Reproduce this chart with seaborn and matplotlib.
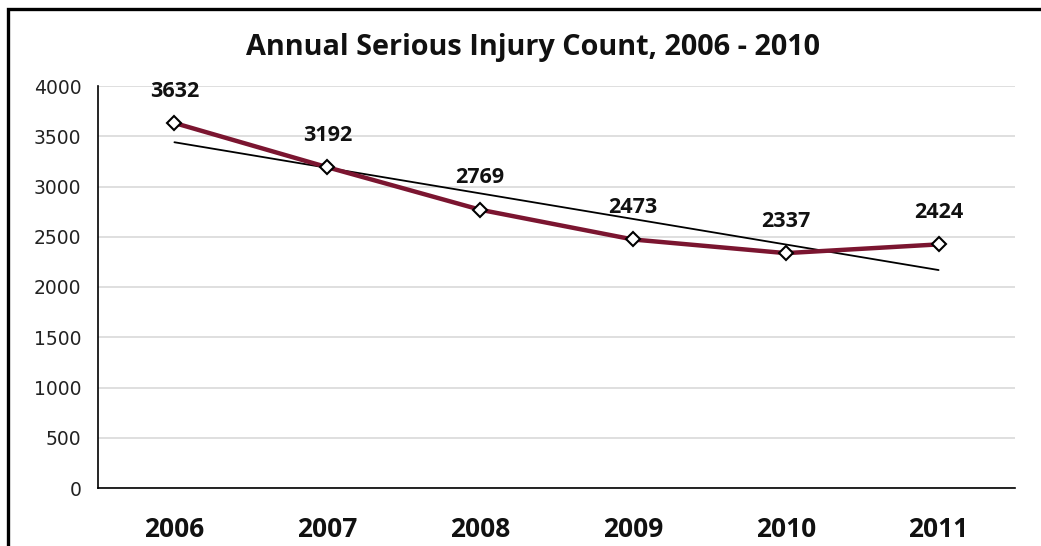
import numpy as np
import pandas as pd
import matplotlib
matplotlib.use("Agg")
import matplotlib.pyplot as plt
import seaborn as sns
from matplotlib.patches import Rectangle
from matplotlib.ticker import FixedLocator

years = ["2006", "2007", "2008", "2009", "2010", "2011"]
injuries = [3632, 3192, 2769, 2473, 2337, 2424]

df = pd.DataFrame({"pos": np.arange(len(years)), "year": years, "count": injuries})

sns.set_style("white")
plt.rcParams["font.family"] = ["DejaVu Sans"]
bold_font = "Open Sans"

fig = plt.figure(figsize=(10.41, 5.46), dpi=100)
ax = fig.add_axes([98 / 1041, 1 - 488 / 546, (1015 - 98) / 1041, (488 - 86) / 546])

# trend line (linear fit, like Excel)
sns.regplot(data=df, x="pos", y="count", scatter=False, ci=None, truncate=True,
            line_kws=dict(color="black", lw=1.3, zorder=3), ax=ax)

sns.lineplot(data=df, x="pos", y="count", color="#7b1530", lw=3.2,
             marker="D", markersize=7, markerfacecolor="white",
             markeredgecolor="black", markeredgewidth=1.5, zorder=4, ax=ax)

for p, v in zip(df["pos"], df["count"]):
    ax.annotate(str(v), (p, v), xytext=(0, 23), textcoords="offset points",
                ha="center", va="center", fontsize=15.5, fontweight="bold",
                family=bold_font, color="#111111")

ax.set_xlim(-0.5, 5.5)
ax.set_ylim(0, 4000)
ax.set_yticks(range(0, 4001, 500))
ax.yaxis.grid(True, color="#d9d9d9", lw=1.2)
ax.set_axisbelow(True)

ax.set_xticks(df["pos"])
ax.set_xticklabels(years, fontsize=19, fontweight="bold", family=bold_font, color="#111111")
ax.xaxis.set_minor_locator(FixedLocator(np.arange(-0.5, 5.6, 1)))
ax.tick_params(axis="x", which="major", length=0, pad=20)
ax.tick_params(axis="x", which="minor", length=6, width=1.2, color="black", direction="out")
ax.tick_params(axis="y", length=5, width=1.2, color="black", direction="out",
               labelsize=13.5, labelcolor="#222222", pad=7)
ax.set_xlabel("")
ax.set_ylabel("")

for s in ["top", "right"]:
    ax.spines[s].set_visible(False)
for s in ["left", "bottom"]:
    ax.spines[s].set_color("black")
    ax.spines[s].set_linewidth(1.2)

fig.text(533 / 1041, 1 - 48 / 546, "Annual Serious Injury Count, 2006 - 2010",
         ha="center", va="center", fontsize=20.8, fontweight="bold", family=bold_font,
         color="#111111")

# outer chart frame (cut off at right and bottom)
fig.patches.append(Rectangle((8 / 1041, -0.5), 2, 1.5 - 8.5 / 546, transform=fig.transFigure,
                             fill=False, lw=2.4, edgecolor="black"))

fig.savefig("out.png", dpi=100)
